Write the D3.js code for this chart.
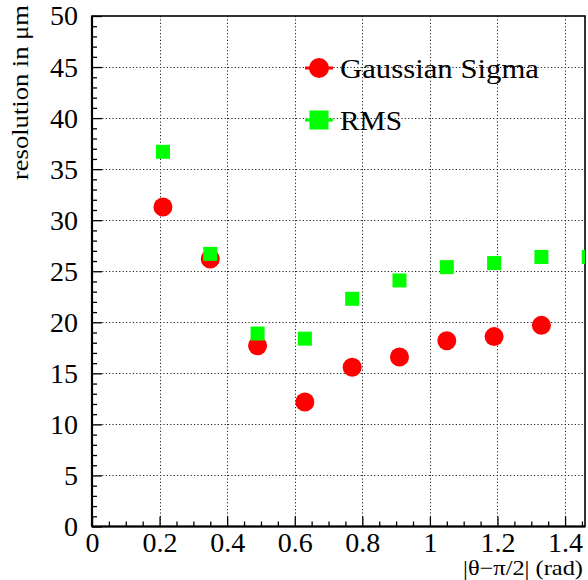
<!DOCTYPE html>
<html>
<head>
<meta charset="utf-8">
<script src="https://cdn.jsdelivr.net/npm/d3@7"></script>
<style>
  html, body { margin: 0; padding: 0; background: #fff; }
  svg { display: block; }
  svg text { font-family: "Liberation Serif", "Times New Roman", serif !important; fill: #000; }
</style>
</head>
<body>
<svg id="chart" width="588" height="580"></svg>
<script>
// ---- data ----
const thetaValues = [0.21, 0.35, 0.49, 0.63, 0.77, 0.91, 1.05, 1.19, 1.33, 1.47];
const gaussianSigma = [31.3, 26.2, 17.7, 12.2, 15.6, 16.6, 18.2, 18.6, 19.7, null];
const rmsValues = [36.7, 26.7, 18.9, 18.4, 22.3, 24.1, 25.4, 25.8, 26.4, 26.4];
const seriesNames = ["Gaussian Sigma", "RMS"];
const seriesColors = ["#ff0000", "#00ff00"];
const xTickValues = [0, 0.2, 0.4, 0.6, 0.8, 1.0, 1.2, 1.4];
const xTickLabels = ["0", "0.2", "0.4", "0.6", "0.8", "1", "1.2", "1.4"];
const yTickValues = [0, 5, 10, 15, 20, 25, 30, 35, 40, 45, 50];
const yTickLabels = ["0", "5", "10", "15", "20", "25", "30", "35", "40", "45", "50"];
const xTitle = "|θ−π/2| (rad)";
const yTitle = "resolution in μm";

// ---- layout ----
const svg = d3.select("#chart");
const L = 92, R = 585, T = 16, B = 526.5;
const x = d3.scaleLinear().domain([0, 1.459]).range([L, R]);
const y = d3.scaleLinear().domain([0, 50]).range([B, T]);
const serif = "'Liberation Serif', 'Times New Roman', serif";

// clip
svg.append("defs").append("clipPath").attr("id", "plotclip")
  .append("rect").attr("x", L).attr("y", T).attr("width", R - L).attr("height", B - T);

// grid
const grid = svg.append("g").attr("stroke", "#222").attr("stroke-width", 1).attr("stroke-dasharray", "1.2,2.2");
grid.selectAll(".gx").data(xTickValues.filter(v => v > 0)).join("line")
  .attr("x1", d => Math.round(x(d)) + 0.5).attr("x2", d => Math.round(x(d)) + 0.5)
  .attr("y1", T).attr("y2", B);
grid.selectAll(".gy").data(yTickValues.filter(v => v > 0 && v < 50)).join("line")
  .attr("y1", d => Math.round(y(d)) + 0.5).attr("y2", d => Math.round(y(d)) + 0.5)
  .attr("x1", L).attr("x2", R);

// minor ticks
const xMinor = d3.range(0, 1.46, 0.05).filter(v => Math.abs(v / 0.2 - Math.round(v / 0.2)) > 1e-6);
const yMinor = d3.range(0, 50.01, 1).filter(v => v % 5 !== 0);

const xAxisMinor = d3.axisBottom(x).tickValues(xMinor).tickSize(-5).tickFormat("");
const xAxis = d3.axisBottom(x).tickValues(xTickValues).tickSize(-10).tickPadding(6)
  .tickFormat((d, i) => xTickLabels[i]);
const yAxisMinor = d3.axisLeft(y).tickValues(yMinor).tickSize(-5).tickFormat("");
const yAxis = d3.axisLeft(y).tickValues(yTickValues).tickSize(-10).tickPadding(14)
  .tickFormat((d, i) => yTickLabels[i]);

function styleAxis(g) {
  g.attr("font-family", null).attr("font-size", null);
  g.select(".domain").remove();
  g.selectAll("line").attr("stroke", "#000").attr("stroke-width", 1.3);
  g.selectAll("text").style("font-size", "28px").style("font-family", serif);
}
svg.append("g").attr("transform", `translate(0,${B})`).call(xAxisMinor).call(styleAxis);
svg.append("g").attr("transform", `translate(0,${B})`).call(xAxis).call(styleAxis);
svg.append("g").attr("transform", `translate(${L},0)`).call(yAxisMinor).call(styleAxis);
svg.append("g").attr("transform", `translate(${L},0)`).call(yAxis).call(styleAxis);

// frame
svg.append("rect").attr("x", L).attr("y", T).attr("width", R - L).attr("height", B - T)
  .attr("fill", "none").attr("stroke", "#000").attr("stroke-width", 1.6);
svg.append("line").attr("x1", L).attr("x2", R).attr("y1", B).attr("y2", B)
  .attr("stroke", "#000").attr("stroke-width", 2.2);
svg.append("line").attr("x1", L).attr("x2", L).attr("y1", T).attr("y2", B)
  .attr("stroke", "#000").attr("stroke-width", 2.2);

// markers
const plot = svg.append("g").attr("clip-path", "url(#plotclip)");
const gData = thetaValues.map((t, i) => ({ t, v: gaussianSigma[i] })).filter(d => d.v !== null);
const rData = thetaValues.map((t, i) => ({ t, v: rmsValues[i] })).filter(d => d.v !== null);
plot.selectAll(".g").data(gData).join("circle")
  .attr("cx", d => x(d.t)).attr("cy", d => y(d.v)).attr("r", 9.5)
  .attr("fill", seriesColors[0]);
const sq = 14;
plot.selectAll(".r").data(rData).join("rect")
  .attr("x", d => x(d.t) - sq / 2).attr("y", d => y(d.v) - sq / 2)
  .attr("width", sq).attr("height", sq).attr("fill", seriesColors[1]);

// legend
const legend = svg.append("g");
const legY = [68, 120];
seriesNames.forEach((name, i) => {
  const gy = legY[i];
  legend.append("line").attr("x1", 305).attr("x2", 333).attr("y1", gy).attr("y2", gy)
    .attr("stroke", seriesColors[i]).attr("stroke-width", 3);
  if (i === 0) {
    legend.append("circle").attr("cx", 319).attr("cy", gy).attr("r", 10).attr("fill", seriesColors[i]);
  } else {
    legend.append("rect").attr("x", 319 - 9.5).attr("y", gy - 9.5).attr("width", 19).attr("height", 19)
      .attr("fill", seriesColors[i]);
  }
  const t = legend.append("text").attr("x", 340).attr("y", gy + 10).style("font-size", "28px").text(name);
  if (i === 0) t.attr("textLength", 199).attr("lengthAdjust", "spacingAndGlyphs");
  else t.attr("textLength", 62).attr("lengthAdjust", "spacingAndGlyphs");
});

// axis titles
svg.append("text").attr("x", 583).attr("y", 575).attr("text-anchor", "end")
  .style("font-size", "21px").attr("textLength", 120).attr("lengthAdjust", "spacingAndGlyphs").text(xTitle);
svg.append("text").attr("transform", "translate(28,5) rotate(-90)").attr("text-anchor", "end")
  .style("font-size", "23px").attr("textLength", 175).attr("lengthAdjust", "spacingAndGlyphs").text(yTitle);
</script>
</body>
</html>
